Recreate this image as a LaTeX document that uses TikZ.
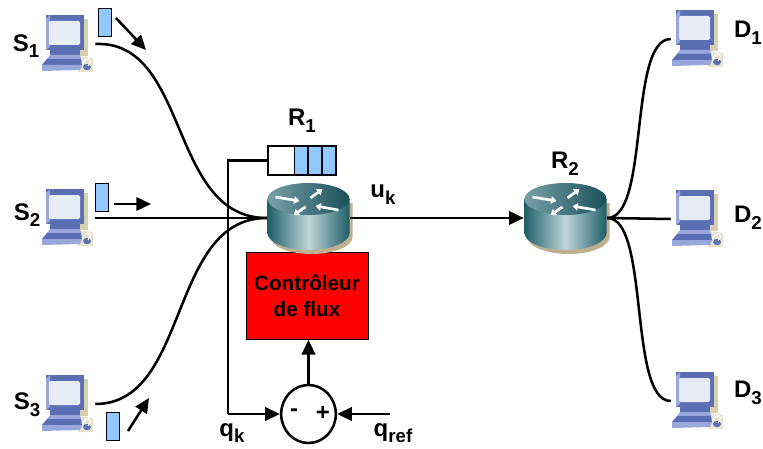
\documentclass[tikz,border=0pt]{standalone}
\usepackage{fontspec}
\setmainfont{Liberation Sans}
\usetikzlibrary{arrows.meta,shapes.geometric}

\definecolor{pcblue}{HTML}{5A6EB4}
\definecolor{pclight}{HTML}{98A8DC}
\definecolor{pcscreen}{HTML}{E6ECF6}
\definecolor{pcshadow}{HTML}{D8CFB0}
\definecolor{rdark}{HTML}{1F5E68}
\definecolor{rlight}{HTML}{BFD6DA}
\definecolor{rtan}{HTML}{BDB08E}
\definecolor{pktblue}{HTML}{90C8FF}

\newcommand{\lbl}[2]{#1\raisebox{-0.28em}{\fontsize{14}{14}\selectfont #2}}

\tikzset{
  pcbox/.style={minimum width=40.5pt, minimum height=43.5pt, inner sep=0pt},
  routerbox/.style={minimum width=62.25pt, minimum height=52.5pt, inner sep=0pt},
  cell/.style={draw, line width=1.4pt, minimum height=21.75pt, inner sep=0pt},
  packet/.style={draw, line width=0.5pt, fill=pktblue, minimum width=9.75pt, minimum height=21pt, inner sep=0pt},
  lab/.style={font=\bfseries\fontsize{18}{20}\selectfont, inner sep=0pt},
  wire/.style={line width=1.9pt},
  flow/.style={line width=1.9pt, -{Triangle[length=11pt, width=10pt]}},
  rarrow/.style={white, line width=2pt, -{Triangle[length=4pt, width=5.5pt]}},
  computer/.pic={
    \fill[pcshadow] (-14,-25) -- (20,-25) -- (20,12) -- (-14,12) -- cycle;
    \fill[pcshadow!60] (10,12) -- (25,14) -- (25,28) -- (10,28) -- cycle;
    \fill[pcblue] (-22,-29) -- (16,-29) -- (16,6) -- (-22,6) -- cycle;
    \fill[pclight] (-22,-25) -- (-18,-29) -- (-18,3) -- (-22,6) -- cycle;
    \fill[pcscreen, rounded corners=1.5pt] (-19,-23) rectangle (12,1);
    \fill[pcblue] (-18,6) -- (12,6) -- (12,13) -- (-18,13) -- cycle;
    \fill[pclight] (-18,11) -- (12,11) -- (13,15) -- (-21,15) -- cycle;
    \fill[pcblue] (-21,15) -- (13,15) -- (14,21) -- (-26,21) -- cycle;
    \fill[pclight] (-26,21) -- (14,21) -- (12,26) -- (-26,27) -- cycle;
    \fill[pcblue] (19,23) ellipse (3pt and 2.4pt);
    \draw[white, line width=0.8pt] (14,20) .. controls (19,12) and (26,14) .. (20,22);
  },
  routericon/.pic={
    \fill[rtan] (-38,-15) -- (-38,19) arc[start angle=180, end angle=360, x radius=30.75pt, y radius=12.75pt] -- (44,-15) -- cycle;
    \path[left color=rdark, right color=rdark, middle color=rlight] (-41,-19) -- (-41,15) arc[start angle=180, end angle=360, x radius=30.75pt, y radius=12.75pt] -- (41,-19) -- cycle;
    \path[left color=rdark!45!rlight, right color=rdark!85!black] (0,-19) ellipse (30.75pt and 12pt);
    \draw[rarrow] (-33,-21) -- (-9,-17);
    \draw[rarrow] (30,-8) -- (7,-12);
    \draw[rarrow] (2,-20) -- (14,-29);
    \draw[rarrow] (-3,-11) -- (-15,-3);
  }
}

\begin{document}
\begin{tikzpicture}[x=0.75pt, y=-0.75pt]
    \useasboundingbox[fill=white] (0,0) rectangle (763,449);

    \draw
    (68,44) node[pcbox](S1){}
    (68,218) node[pcbox](S2){}
    (68,404) node[pcbox](S3){}
    (698,39) node[pcbox](D1){}
    (698,219) node[pcbox](D2){}
    (698,401) node[pcbox](D3){}
    (308.5,218) node[routerbox](R1){}
    (565.5,218) node[routerbox](R2){}
    (307,296) node[draw, line width=0.5pt, fill=red, minimum width=91.5pt, minimum height=65.25pt, align=center, inner sep=0pt,
      font=\bfseries\fontsize{15.5}{20}\selectfont](ctrl){Contrôleur\\de flux}
    (308.5,414) node[ellipse, draw, line width=1.9pt, fill=white, minimum width=41pt, minimum height=43.5pt, inner sep=0pt](sum){}
    (281.5,160.5) node[cell, minimum width=20.25pt](qw){}
    (301.5,160.5) node[cell, fill=pktblue, minimum width=10.5pt](q1){}
    (315,160.5) node[cell, fill=pktblue, minimum width=10.5pt](q2){}
    (329,160.5) node[cell, fill=pktblue, minimum width=10.5pt](q3){}
    (104.5,22) node[packet](p1){}
    (101.5,197.5) node[packet](p2){}
    (112.5,426.5) node[packet](p3){};

    \coordinate (a1) at (116,18);
    \coordinate (b1) at (146,50);
    \coordinate (a2) at (114,204);
    \coordinate (b2) at (151,204);
    \coordinate (a3) at (128,431);
    \coordinate (b3) at (149,398);
    \coordinate (elbowq) at (228,160.5);
    \coordinate (elbows) at (228,414);
    \coordinate (qrefin) at (390,414);

    \foreach \pc in {S1,S2,S3,D1,D2,D3}
      \pic at (\pc) {computer};
    \foreach \rt in {R1,R2}
      \pic at (\rt) {routericon};

    \draw[wire] (S1.east) .. controls (190,40) and (168,218) .. (R1.west);
    \draw[wire] (S2.east) -- (R1.west);
    \draw[wire] (S3.east) .. controls (190,404) and (168,218) .. (R1.west);
    \draw[flow] (R1.east) -- (R2.west);
    \draw[wire] (R2.east) .. controls (650,218) and (628,39) .. (D1.west);
    \draw[wire] (R2.east) -- (D2.west);
    \draw[wire] (R2.east) .. controls (650,218) and (628,401) .. (D3.west);
    \draw[wire] (qw.west) -- (elbowq) -- (elbows);
    \draw[flow] (elbows) -- (sum.west);
    \draw[flow] (qrefin) -- (sum.east);
    \draw[flow] (sum.north) -- (sum.north |- ctrl.south);
    \draw[flow] (a1) -- (b1);
    \draw[flow] (a2) -- (b2);
    \draw[flow] (a3) -- (b3);

    \draw
    (26,46) node[lab](tS1){\lbl{S}{1}}
    (27,215) node[lab](tS2){\lbl{S}{2}}
    (27,405) node[lab](tS3){\lbl{S}{3}}
    (748,33) node[lab](tD1){\lbl{D}{1}}
    (748,218) node[lab](tD2){\lbl{D}{2}}
    (748,393) node[lab](tD3){\lbl{D}{3}}
    (302,121) node[lab](tR1){\lbl{R}{1}}
    (565,164) node[lab](tR2){\lbl{R}{2}}
    (383,195) node[lab](tu){\lbl{u}{k}}
    (232,433) node[lab](tq){\lbl{q}{k}}
    (393,433) node[lab](tref){\lbl{q}{ref}}
    (294,413) node[lab](minus){-}
    (323,413) node[lab](plus){+};
  \end{tikzpicture}
\end{document}
